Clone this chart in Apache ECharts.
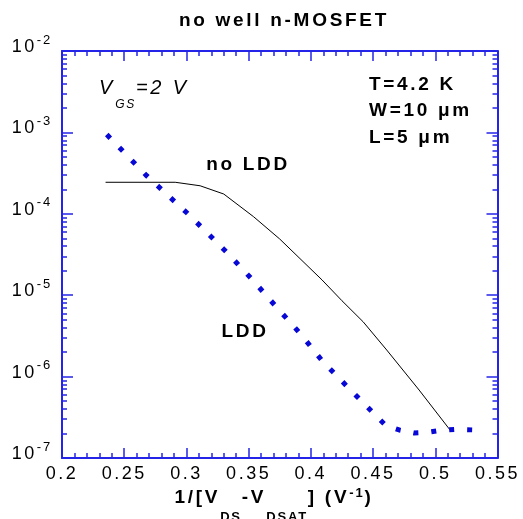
<!DOCTYPE html>
<html>
<head>
<meta charset="utf-8">
<script src="https://cdn.jsdelivr.net/npm/echarts@6/dist/echarts.min.js"></script>
<style>
    html, body { margin: 0; padding: 0; background: #fff; }
    #chart { width: 523px; height: 519px; }
</style>
</head>
<body>
<div id="chart"></div>
<script>
// curves: x = 1/(Vds - Vdsat) in 1/V, y on a log scale
var noLddX = [0.235, 0.291, 0.311, 0.330, 0.354, 0.375, 0.409, 0.425, 0.442, 0.461, 0.487, 0.513];
var noLddY = [2.44e-4, 2.44e-4, 2.21e-4, 1.75e-4, 9.2e-5, 4.9e-5, 1.54e-5, 8.55e-6, 4.72e-6, 2.12e-6, 6.84e-7, 2.10e-7];

var lddX = [0.236, 0.268, 0.302, 0.334, 0.354, 0.373, 0.392, 0.409, 0.429, 0.450, 0.460, 0.471, 0.483, 0.494, 0.504, 0.516, 0.540];
var lddY = [9.4e-4, 2.94e-4, 9.75e-5, 3.18e-5, 1.49e-5, 6.96e-6, 3.31e-6, 1.57e-6, 7.6e-7, 3.6e-7, 2.52e-7, 2.21e-7, 2.03e-7, 2.07e-7, 2.19e-7, 2.25e-7, 2.19e-7];

// decade exponents used as y tick labels (10^n)
var yDecades = [-7, -6, -5, -4, -3, -2];

var FONT = '"Liberation Sans", Arial, sans-serif';
var AXIS_BLUE = '#2424e8';
var LINE_BLUE = '#0707d6';

// the original lettering is widely spaced, canvas can do that natively
(function () {
    var proto = CanvasRenderingContext2D.prototype;
    ['fillText', 'strokeText', 'measureText'].forEach(function (name) {
        var orig = proto[name];
        proto[name] = function () {
            var m = /(\d+(?:\.\d+)?)px/.exec(this.font);
            this.letterSpacing = m ? (parseFloat(m[1]) * 0.14).toFixed(1) + 'px' : '0px';
            return orig.apply(this, arguments);
        };
    });
})();

function toLog(xs, ys) {
    return xs.map(function (x, i) {
        return [x, Math.log10(ys[i])];
    });
}

// minor ticks at 2..9 inside each decade
var yMinor = [];
yDecades.slice(0, -1).forEach(function (d) {
    for (var m = 2; m <= 9; m++) yMinor.push(d + Math.log10(m));
});

function makeX(position, showLabel) {
    return {
        type: 'value', position: position,
        min: 0.2, max: 0.55, interval: 0.05,
        axisLine: {show: true, onZero: false, lineStyle: {color: AXIS_BLUE, width: 2}},
        axisTick: {show: true, inside: true, length: 10, lineStyle: {color: AXIS_BLUE, width: 1.5}},
        minorTick: {show: true, splitNumber: 5, length: 5, lineStyle: {color: AXIS_BLUE, width: 1.5}},
        splitLine: {show: false},
        axisLabel: {
            show: showLabel, margin: 6, color: '#000',
            fontFamily: FONT, fontSize: 18
        }
    };
}

function makeY(position, showLabel) {
    return {
        type: 'value', position: position,
        min: yDecades[0], max: yDecades[yDecades.length - 1], interval: 1,
        axisLine: {show: true, onZero: false, lineStyle: {color: AXIS_BLUE, width: 2}},
        axisTick: {show: true, inside: true, length: 11, lineStyle: {color: AXIS_BLUE, width: 1.5}},
        splitLine: {show: false},
        axisLabel: {
            show: showLabel, margin: 10, color: '#000', padding: [0, 0, 8, 0],
            formatter: function (v) {
                return '{b|10}{s|' + v + '}';
            },
            rich: {
                b: {fontFamily: FONT, fontSize: 18, color: '#000'},
                s: {fontFamily: FONT, fontSize: 13, color: '#000', padding: [0, 0, 14, 0]}
            }
        }
    };
}

function makeYMinor(position) {
    return {
        type: 'value', position: position,
        min: yDecades[0], max: yDecades[yDecades.length - 1],
        axisLine: {show: false},
        axisLabel: {show: false},
        splitLine: {show: false},
        axisTick: {
            show: true, inside: true, length: 5, customValues: yMinor,
            lineStyle: {color: AXIS_BLUE, width: 1.5}
        }
    };
}

function label(text, x, y, opts) {
    return {
        type: 'text', x: x, y: y, silent: true,
        style: Object.assign({
            text: text, fill: '#000',
            fontFamily: FONT, fontSize: 19, fontWeight: 'bold',
            textAlign: 'center', textVerticalAlign: 'middle'
        }, opts || {})
    };
}

var chart = echarts.init(document.getElementById('chart'));

chart.setOption({
    animation: false,
    backgroundColor: '#fff',
    grid: {left: 62, right: 25, top: 51, bottom: 61},
    xAxis: [makeX('bottom', true), makeX('top', false)],
    yAxis: [makeY('left', true), makeY('right', false), makeYMinor('left'), makeYMinor('right')],
    series: [
        {
            name: 'no LDD', type: 'line', symbol: 'none',
            data: toLog(noLddX, noLddY),
            lineStyle: {color: '#000', width: 1}
        },
        {
            name: 'LDD', type: 'line', symbol: 'none',
            data: toLog(lddX, lddY),
            lineStyle: {color: LINE_BLUE, width: 5, type: [5, 13], cap: 'butt'}
        }
    ],
    graphic: [
        label('no well n-MOSFET', 284, 21),
        label('no LDD', 248, 165),
        label('LDD', 245, 332),
        label('T=4.2 K', 369, 85, {textAlign: 'left'}),
        label('W=10 \u03bcm', 369, 111, {textAlign: 'left'}),
        label('L=5 \u03bcm', 369, 138, {textAlign: 'left'}),
        label('{v|V}{sub|GS}{v|=2 V}', 99, 88, {
            textAlign: 'left',
            rich: {
                v: {fontFamily: FONT, fontSize: 20, fontStyle: 'italic', fontWeight: 'normal', color: '#000'},
                sub: {fontFamily: FONT, fontSize: 12, fontStyle: 'italic', fontWeight: 'normal', color: '#000', padding: [34, 0, 0, 0]}
            }
        }),
        label('{b|1/[V}{sub|DS}{b|-V}{sub|DSAT}{b|] (V}{sup|-1}{b|)}', 274, 498, {
            rich: {
                b: {fontFamily: FONT, fontSize: 19, fontWeight: 'bold', color: '#000'},
                sub: {fontFamily: FONT, fontSize: 13, fontWeight: 'bold', color: '#000', padding: [38, 0, 0, 0]},
                sup: {fontFamily: FONT, fontSize: 13, fontWeight: 'bold', color: '#000', padding: [0, 0, 10, 0]}
            }
        })
    ]
});
</script>
</body>
</html>
